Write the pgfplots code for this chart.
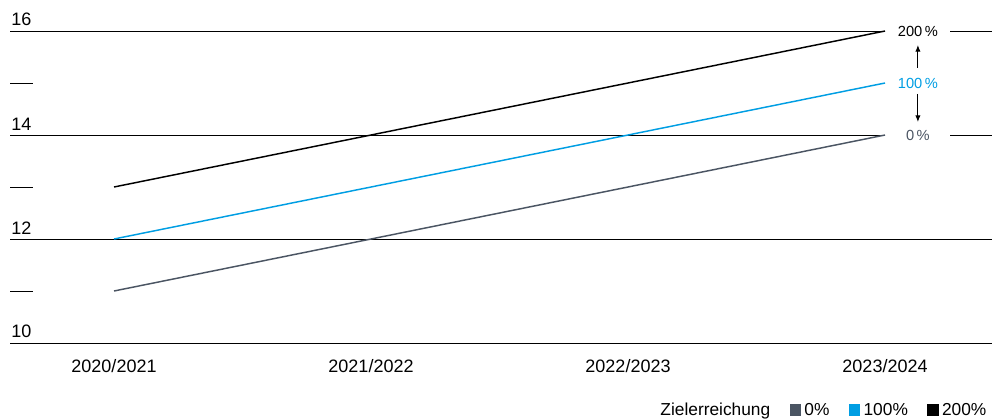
\documentclass[border=0pt]{standalone}
\usepackage{fontspec}
\setmainfont{Liberation Sans}
\usepackage{pgfplots}
\pgfplotsset{compat=1.18}
\usetikzlibrary{arrows.meta}
\definecolor{zgray}{RGB}{75,85,99}
\definecolor{zblue}{RGB}{0,158,227}
\begin{document}
\begin{tikzpicture}
\useasboundingbox (-7.5pt,-57pt) rectangle (736.5pt,257.25pt);
\begin{axis}[
  at={(0,0)}, anchor=south west,
  scale only axis, width=736.5pt, height=234pt,
  xmin=-0.4047, xmax=3.4163, ymin=10, ymax=16,
  xtick={0,1,2,3},
  xticklabels={2020/2021,2021/2022,2022/2023,2023/2024},
  ytick={10,12,14,16}, minor ytick={11,13,15},
  axis line style={draw=none},
  tick align=inside, ytick pos=left, xtick pos=bottom,
  major tick length=0pt, minor tick length=17.25pt,
  tick style={black, line width=0.75pt},
  xtick style={draw=none},
  /pgf/number format/assume math mode=true,
  tick label style={font=\fontsize{13.5}{16}\selectfont},
  yticklabel style={anchor=south west, inner sep=0pt, xshift=0.75pt, yshift=3.5pt},
  xticklabel style={anchor=north, inner sep=0pt, yshift=-12.5pt},
  clip=false,
  legend columns=4,
  legend image code/.code={\fill[#1] (0pt,-3.75pt) rectangle (7.5pt,3.75pt);},
  legend style={at={(1,0)}, anchor=east, xshift=-1.5pt, yshift=-50.25pt,
    draw=none, fill=none, inner sep=0pt,
    font=\fontsize{13}{15}\selectfont,
    nodes={inner xsep=2.5pt, inner ysep=1pt},
    /tikz/every even column/.append style={column sep=12pt}},
]
\draw[line width=0.75pt] (axis cs:-0.4047,10) -- (axis cs:3.4163,10);
\draw[line width=0.75pt] (axis cs:-0.4047,12) -- (axis cs:3.4163,12);
\draw[line width=0.75pt] (axis cs:-0.4047,14) -- (axis cs:3,14);
\draw[line width=0.75pt] (axis cs:3.253,14) -- (axis cs:3.4163,14);
\draw[line width=0.75pt] (axis cs:-0.4047,16) -- (axis cs:3,16);
\draw[line width=0.75pt] (axis cs:3.253,16) -- (axis cs:3.4163,16);
\addlegendimage{empty legend}
\addlegendentry{Zielerreichung}
\addplot[zgray, line width=1.1pt] coordinates {(0,11) (1,12) (2,13) (3,14)};
\addlegendentry{0\%}
\addplot[zblue, line width=1.1pt] coordinates {(0,12) (1,13) (2,14) (3,15)};
\addlegendentry{100\%}
\addplot[black, line width=1.1pt] coordinates {(0,13) (1,14) (2,15) (3,16)};
\addlegendentry{200\%}
\node[black, font=\fontsize{11}{13}\selectfont] at (axis cs:3.128,16) {200\,\%};
\node[zblue, font=\fontsize{11}{13}\selectfont] at (axis cs:3.128,15) {100\,\%};
\node[zgray, font=\fontsize{11}{13}\selectfont] at (axis cs:3.128,14) {0\,\%};
\draw[-{Latex[length=5pt,width=4pt]}, line width=0.75pt] (axis cs:3.128,15.29) -- (axis cs:3.128,15.73);
\draw[-{Latex[length=5pt,width=4pt]}, line width=0.75pt] (axis cs:3.128,14.79) -- (axis cs:3.128,14.25);
\end{axis}
\end{tikzpicture}
\end{document}
